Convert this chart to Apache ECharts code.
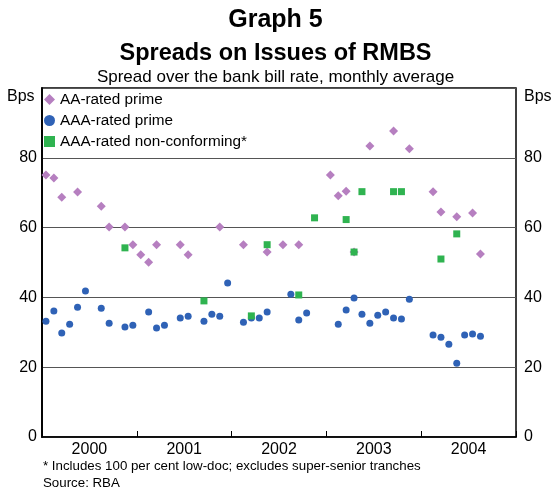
<!DOCTYPE html>
<html>
<head>
<meta charset="utf-8">
<script src="https://cdn.jsdelivr.net/npm/echarts@6/dist/echarts.min.js"></script>
<style>
  html, body { margin: 0; padding: 0; background: #fff; }
  #main { width: 551px; height: 490px; }
</style>
</head>
<body>
<div id="main"></div>
<script>
// 月份索引（0 = 2000年1月）及对应数值
const years = ['2000', '2001', '2002', '2003', '2004'];

const aaMonths = [0, 1, 2, 4, 7, 8, 10, 11, 12, 13, 14, 17, 18, 22, 25, 28, 30, 32, 36, 37, 38, 39, 41, 44, 46, 49, 50, 52, 54, 55];
const aaValues = [75.1, 74.2, 68.7, 70.2, 66.1, 60.2, 60.2, 55.1, 52.2, 50.1, 55.1, 55.1, 52.2, 60.2, 55.1, 53.0, 55.1, 55.1, 75.1, 69.1, 70.4, 53.0, 83.4, 87.7, 82.6, 70.3, 64.5, 63.1, 64.2, 52.4];

const aaaMonths = [0, 1, 2, 3, 4, 5, 7, 8, 10, 11, 13, 14, 15, 17, 18, 20, 21, 22, 23, 25, 26, 27, 28, 31, 32, 33, 37, 38, 39, 40, 41, 42, 43, 44, 45, 46, 49, 50, 51, 52, 53, 54, 55];
const aaaValues = [33.2, 36.1, 29.8, 32.3, 37.2, 41.8, 36.9, 32.6, 31.5, 32.0, 35.8, 31.2, 32.0, 34.1, 34.6, 33.2, 35.2, 34.6, 44.1, 32.9, 34.1, 34.1, 35.8, 40.9, 33.5, 35.5, 32.3, 36.4, 39.8, 35.2, 32.6, 34.9, 35.8, 34.1, 33.8, 39.5, 29.2, 28.6, 26.6, 21.1, 29.2, 29.5, 28.9];

const ncMonths = [10, 20, 26, 28, 32, 34, 38, 39, 40, 44, 45, 50, 52];
const ncValues = [54.2, 39.0, 34.7, 55.1, 40.7, 62.8, 62.3, 53.0, 70.3, 70.3, 70.3, 51.0, 58.2];

// 点放在月份中间
function toPoints(months, values) {
    return months.map((m, i) => [m + 0.5, values[i]]);
}

const font = 'Arial, "Liberation Sans", sans-serif';

var myChart = echarts.init(document.getElementById('main'));

const option = {
    animation: false,
    textStyle: { fontFamily: font },
    title: [
        {
            text: 'Graph 5', left: 'center', top: 8, padding: 0,
            textStyle: { fontSize: 25, fontWeight: 'bold', color: '#000', fontFamily: font }
        },
        {
            text: 'Spreads on Issues of RMBS', left: 'center', top: 42, padding: 0,
            textStyle: { fontSize: 23.5, fontWeight: 'bold', color: '#000', fontFamily: font }
        },
        {
            text: 'Spread over the bank bill rate, monthly average', left: 'center', top: 69, padding: 0,
            textStyle: { fontSize: 17, fontWeight: 'normal', color: '#000', fontFamily: font }
        }
    ],
    legend: {
        orient: 'vertical',
        left: 44,
        top: 92,
        padding: 0,
        itemGap: 6,
        itemWidth: 11,
        itemHeight: 11,
        textStyle: { fontSize: 15.3, color: '#000', lineHeight: 15, fontFamily: font },
        data: [
            { name: 'AA-rated prime', icon: 'diamond' },
            { name: 'AAA-rated prime', icon: 'circle' },
            { name: 'AAA-rated non-conforming*', icon: 'rect' }
        ]
    },
    grid: {
        left: 42, right: 35, top: 88, bottom: 53,
        show: true, borderColor: '#000', borderWidth: 1.5
    },
    xAxis: [
        {
            type: 'value', min: 0, max: 60, interval: 12,
            axisLine: { show: true, lineStyle: { color: '#000', width: 1.5 } },
            axisTick: { show: true, inside: true, length: 6, lineStyle: { color: '#000', width: 1 } },
            axisLabel: { show: false },
            splitLine: { show: false }
        },
        {
            type: 'value', min: 0, max: 60, interval: 6, position: 'bottom',
            axisLine: { show: false },
            axisTick: { show: false },
            splitLine: { show: false },
            axisLabel: {
                margin: 5, fontSize: 16, color: '#000', fontFamily: font,
                formatter: function (v) {
                    return v % 12 === 6 ? years[(v - 6) / 12] : '';
                }
            }
        }
    ],
    yAxis: [
        {
            type: 'value', min: 0, max: 100, interval: 20, position: 'left',
            axisLine: { show: true, lineStyle: { color: '#000', width: 1.5 } },
            axisTick: { show: false },
            axisLabel: {
                margin: 5, fontSize: 16, color: '#000', fontFamily: font,
                formatter: v => (v === 100 ? '' : v)
            },
            splitLine: { show: true, lineStyle: { color: '#555', width: 1 } }
        },
        {
            type: 'value', min: 0, max: 100, interval: 20, position: 'right',
            axisLine: { show: true, lineStyle: { color: '#000', width: 1.5 } },
            axisTick: { show: false },
            axisLabel: {
                margin: 8, fontSize: 16, color: '#000', fontFamily: font,
                formatter: v => (v === 100 ? '' : v)
            },
            splitLine: { show: false }
        }
    ],
    series: [
        {
            name: 'AA-rated prime',
            type: 'scatter',
            symbol: 'diamond',
            symbolSize: 9,
            itemStyle: { color: '#b67fc0', opacity: 1 },
            data: toPoints(aaMonths, aaValues)
        },
        {
            name: 'AAA-rated prime',
            type: 'scatter',
            symbol: 'circle',
            symbolSize: 7,
            itemStyle: { color: '#2f62b6', opacity: 1 },
            data: toPoints(aaaMonths, aaaValues)
        },
        {
            name: 'AAA-rated non-conforming*',
            type: 'scatter',
            symbol: 'rect',
            symbolSize: 7,
            itemStyle: { color: '#2fb350', opacity: 1 },
            data: toPoints(ncMonths, ncValues)
        }
    ],
    graphic: [
        {
            type: 'text', left: 7, top: 89,
            style: { text: 'Bps', fontSize: 16, fill: '#000', fontFamily: font }
        },
        {
            type: 'text', left: 524, top: 89,
            style: { text: 'Bps', fontSize: 16, fill: '#000', fontFamily: font }
        },
        {
            type: 'text', left: 43, top: 460,
            style: { text: '* Includes 100 per cent low-doc; excludes super-senior tranches', fontSize: 13.3, fill: '#000', fontFamily: font }
        },
        {
            type: 'text', left: 43, top: 477,
            style: { text: 'Source: RBA', fontSize: 13.3, fill: '#000', fontFamily: font }
        }
    ]
};

myChart.setOption(option);
</script>
</body>
</html>
